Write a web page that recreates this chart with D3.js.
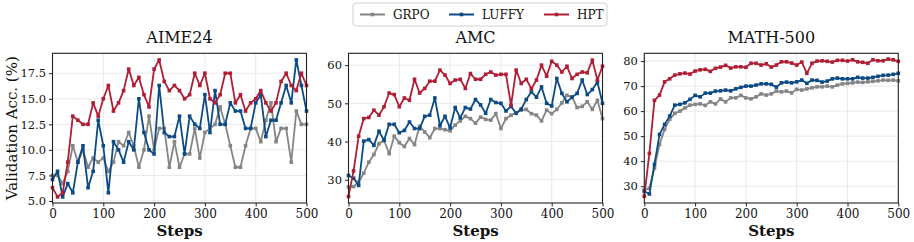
<!DOCTYPE html>
<html>
<head>
<meta charset="utf-8">
<script src="https://cdn.jsdelivr.net/npm/d3@7"></script>
<style>
  body { margin: 0; background: white; }
  svg { display: block; font-family: "DejaVu Serif", serif; }
</style>
</head>
<body>
<svg id="chart"></svg>
<script>
var steps = [0,10,20,30,40,50,60,70,80,90,100,110,120,130,140,150,160,170,180,190,200,
  210,220,230,240,250,260,270,280,290,300,310,320,330,340,350,360,370,380,390,400,
  410,420,430,440,450,460,470,480,490,500];
var xTicks = [0,100,200,300,400,500];
var methods = ["GRPO","LUFFY","HPT"];

// AIME24
var aimeGRPO = [7.5,7.5,6.7,7.9,10.4,8.8,10.0,8.3,9.2,8.8,9.2,7.9,8.8,10.8,10.4,11.7,10.4,8.3,10.0,13.3,10.0,
  12.1,12.1,8.3,10.8,8.3,9.6,9.6,12.1,9.2,11.7,12.1,12.5,14.2,12.5,10.4,8.3,8.3,10.4,12.1,12.1,
  10.8,12.9,14.6,10.8,12.1,12.1,8.8,13.8,12.5,12.5];
var aimeLUFFY = [7.1,7.9,5.4,6.7,5.8,8.8,10.4,6.3,7.9,12.9,10.4,5.8,10.8,10.0,8.8,10.8,10.0,15.0,11.7,10.0,9.6,
  16.3,11.7,11.3,11.3,13.3,9.6,13.3,12.5,12.1,15.4,11.7,15.8,12.5,12.5,14.6,13.8,13.8,12.1,12.1,14.6,
  15.4,11.3,12.9,12.9,14.6,16.3,14.6,18.8,16.3,13.8];
var aimeHPT = [6.3,5.4,5.8,8.8,13.3,12.9,12.5,12.5,14.6,13.3,15.0,16.3,13.8,14.6,15.8,17.9,16.3,17.1,15.4,14.2,17.9,
  18.8,16.7,15.8,16.3,15.8,15.0,15.4,17.5,16.3,17.5,15.0,14.6,15.4,17.5,17.5,14.6,15.4,13.8,14.6,15.0,
  15.8,14.6,13.8,14.6,16.7,17.5,16.3,15.8,17.5,16.3];

// AMC
var amcGRPO = [28.1,28.2,29.4,31.7,34.6,36.6,39.4,40.3,36.8,41.4,39.7,38.7,40.8,39.2,44.0,42.5,41.0,43.4,43.4,43.1,42.8,
  44.3,45.4,46.6,46.0,44.8,46.4,45.8,45.6,47.3,43.4,46.0,46.9,47.5,48.2,48.4,47.3,46.9,45.4,48.2,47.3,
  48.4,50.1,52.1,51.7,48.9,49.2,50.4,48.4,50.8,46.0];
var amcLUFFY = [31.1,30.4,28.5,40.1,40.5,39.0,42.7,40.3,44.5,44.5,42.3,42.9,45.1,43.4,43.4,46.6,46.9,51.4,44.2,46.6,43.6,
  48.9,46.2,48.9,48.5,51.0,49.6,47.4,51.0,50.2,50.0,48.0,49.2,47.4,48.5,51.0,53.0,51.6,54.3,50.0,49.3,
  56.5,52.6,50.4,51.6,52.6,56.1,52.3,53.6,55.6,50.0];
var amcHPT = [25.6,32.3,41.4,46.0,46.3,48.2,46.9,49.1,52.7,52.3,49.1,51.4,50.8,56.3,52.7,53.9,55.8,55.8,58.7,57.4,55.2,
  56.1,56.3,53.9,57.8,56.3,56.3,57.6,58.2,57.4,57.6,57.6,49.5,58.7,55.2,56.3,53.8,56.1,60.0,57.1,61.0,
  60.0,58.2,59.7,56.5,57.6,58.2,58.0,61.3,56.1,59.7];

// MATH-500
var mathGRPO = [28.5,29.2,37.3,46.7,52.7,56.7,59.1,60.0,61.3,62.4,62.7,62.9,62.3,63.7,62.9,64.9,63.7,65.3,65.3,66.3,65.3,
  64.9,65.7,66.9,66.4,66.9,68.0,67.7,68.0,67.3,68.7,68.4,68.9,69.3,69.7,69.7,70.0,69.7,70.4,70.9,71.1,
  71.3,71.6,71.5,71.7,71.9,72.1,72.4,72.3,72.4,72.1];
var mathLUFFY = [28.0,26.9,38.7,50.7,54.7,58.0,62.4,62.7,63.3,64.7,66.3,65.7,67.2,67.2,68.0,68.1,68.4,68.1,68.9,69.5,70.0,
  70.0,70.4,70.9,70.9,70.7,69.6,71.3,71.6,71.3,71.7,72.4,71.1,72.4,72.3,71.6,72.0,72.9,73.2,72.9,72.9,
  72.9,73.5,73.2,73.2,73.5,73.9,74.3,74.4,74.7,75.1];
var mathHPT = [26.0,43.1,64.3,66.4,71.7,72.9,74.4,74.9,75.2,74.8,76.0,76.5,76.7,75.9,77.1,77.6,78.3,77.2,77.7,77.7,77.5,
  79.1,79.1,78.4,78.9,77.6,78.4,79.7,79.7,79.2,78.4,79.6,75.1,79.1,80.0,80.1,79.9,79.6,80.3,80.3,80.0,
  80.5,79.7,79.5,79.1,80.5,80.1,80.1,80.8,80.5,79.9];

var aimeTicks = [5,7.5,10,12.5,15,17.5];
var amcTicks = [30,40,50,60];
var mathTicks = [30,40,50,60,70,80];

var colors = {"GRPO":"#858585", "LUFFY":"#0c4a85", "HPT":"#b01e36"};

var panels = [
  {title:"AIME24", left:52.5, domain:[4.8,19.45], ticks:aimeTicks, fmt:d3.format(".1f"),
   series:{"GRPO":aimeGRPO, "LUFFY":aimeLUFFY, "HPT":aimeHPT}},
  {title:"AMC", left:348.5, domain:[23.9,63.1], ticks:amcTicks, fmt:d3.format("d"),
   series:{"GRPO":amcGRPO, "LUFFY":amcLUFFY, "HPT":amcHPT}},
  {title:"MATH-500", left:644.3, domain:[23.3,83.1], ticks:mathTicks, fmt:d3.format("d"),
   series:{"GRPO":mathGRPO, "LUFFY":mathLUFFY, "HPT":mathHPT}}
];

var chartW = 914, chartH = 242;
var pw = 254, plotTop = 53.3, plotBottom = 203, ph = plotBottom - plotTop;

var svg = d3.select("#chart").attr("width", chartW).attr("height", chartH);

panels.forEach(function(p, i){
  var g = svg.append("g").attr("transform", "translate(" + p.left + "," + plotTop + ")");
  var x = d3.scaleLinear().domain([0,500]).range([0,pw]);
  var y = d3.scaleLinear().domain(p.domain).range([ph,0]);

  // grid
  g.append("g").selectAll("line").data(xTicks).enter().append("line")
    .attr("x1", d=>x(d)).attr("x2", d=>x(d)).attr("y1",0).attr("y2",ph)
    .attr("stroke","#e6e6e6").attr("stroke-width",0.9);
  g.append("g").selectAll("line").data(p.ticks).enter().append("line")
    .attr("y1", d=>y(d)).attr("y2", d=>y(d)).attr("x1",0).attr("x2",pw)
    .attr("stroke","#e6e6e6").attr("stroke-width",0.9);

  var clipId = "clip" + i;
  g.append("clipPath").attr("id", clipId).append("rect")
    .attr("x",-3).attr("y",0).attr("width",pw+6).attr("height",ph);

  var line = d3.line().x((d,j)=>x(steps[j])).y(d=>y(d));
  var plot = g.append("g").attr("clip-path","url(#" + clipId + ")");
  methods.forEach(function(m){
    var vals = p.series[m];
    plot.append("path").datum(vals)
      .attr("d", line).attr("fill","none")
      .attr("stroke", colors[m]).attr("stroke-width",1.8)
      .attr("stroke-linejoin","round");
    plot.selectAll(null).data(vals).enter().append("rect")
      .attr("x", (d,j)=>x(steps[j]) - 1.8)
      .attr("y", d=>y(d) - 1.8)
      .attr("width",3.6).attr("height",3.6)
      .attr("fill", colors[m]);
  });

  // axes
  var ax = g.append("g").attr("transform","translate(0," + ph + ")")
    .call(d3.axisBottom(x).tickValues(xTicks).tickSize(3.5).tickPadding(3));
  var ay = g.append("g")
    .call(d3.axisLeft(y).tickValues(p.ticks).tickFormat(p.fmt).tickSize(3.5).tickPadding(3));
  [ax, ay].forEach(function(a){
    a.select(".domain").remove();
    a.selectAll("text").attr("font-family","DejaVu Serif").attr("font-size",12).attr("fill","#111");
    a.selectAll("line").attr("stroke","#222");
  });
  ay.selectAll("text").attr("font-size",11.5);

  g.append("rect").attr("width",pw).attr("height",ph)
    .attr("fill","none").attr("stroke","#222").attr("stroke-width",1.1);

  g.append("text").attr("x",pw/2).attr("y",-10.5)
    .attr("text-anchor","middle").attr("font-size",16).attr("fill","#111")
    .text(p.title);

  g.append("text").attr("x",pw/2).attr("y",236 - plotTop)
    .attr("text-anchor","middle").attr("font-size",15).attr("font-weight","bold")
    .attr("fill","#111").text("Steps");
});

svg.append("text")
  .attr("transform","translate(16.5," + (plotTop + ph/2) + ") rotate(-90)")
  .attr("text-anchor","middle").attr("font-size",15).attr("fill","#111")
  .text("Validation Acc. (%)");

// legend
var leg = svg.append("g").attr("transform","translate(353,3)");
leg.append("rect").attr("width",254).attr("height",23).attr("rx",3)
  .attr("fill","white").attr("stroke","#d0d0d0").attr("stroke-width",1);
var legX = [7, 96, 191];
methods.forEach(function(m, k){
  var lg = leg.append("g").attr("transform","translate(" + legX[k] + ",11.5)");
  lg.append("line").attr("x1",0).attr("x2",25).attr("stroke",colors[m]).attr("stroke-width",2);
  lg.append("rect").attr("x",10.7).attr("y",-1.8).attr("width",3.6).attr("height",3.6).attr("fill",colors[m]);
  lg.append("text").attr("x",33).attr("y",4.3).attr("font-size",12).attr("fill","#111").text(m);
});
</script>
</body>
</html>
